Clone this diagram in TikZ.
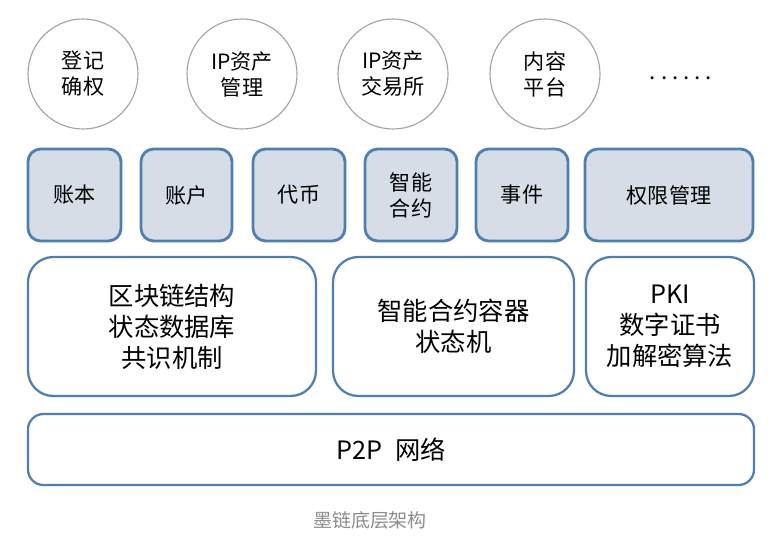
\documentclass[tikz,border=0pt]{standalone}
\usepackage{fontspec}
\setmainfont{Noto Sans CJK SC}
\definecolor{boxline}{HTML}{4F7FAE}
\definecolor{boxfill}{HTML}{D7DDE7}
\definecolor{ringline}{HTML}{A3A3A3}
\begin{document}
\begin{tikzpicture}[
  app/.style={circle, draw=ringline, line width=0.8pt, minimum size=2.75cm,
    align=center, font=\fontsize{15}{18.5}\selectfont},
  unit/.style={rounded corners=9pt, draw=boxline, fill=boxfill, line width=2pt,
    minimum height=2.3cm, align=center, font=\fontsize{15}{18.5}\selectfont},
  core/.style={rounded corners=18pt, draw=boxline, line width=1.6pt,
    minimum height=3.475cm, align=center, font=\fontsize{18}{22}\selectfont},
  net/.style={rounded corners=11pt, draw=boxline, line width=1.6pt,
    minimum height=1.775cm, minimum width=18.15cm, font=\fontsize{18}{22}\selectfont}]
  \useasboundingbox (0,0) rectangle (19.525,-13.55);
  % top row
  \node[app] (reg)  at (2.075,-1.85)  {登记\\确权};
  \node[app] (ipm)  at (6.05,-1.85)   {IP资产\\管理};
  \node[app] (ipx)  at (9.825,-1.85)  {IP资产\\交易所};
  \node[app] (cont) at (13.625,-1.85) {内容\\平台};
  \node (more) at (17.025,-1.95) {\fontsize{16}{18}\selectfont .\hspace{3.5pt}.\hspace{3.5pt}.\hspace{3.5pt}.\hspace{3.5pt}.\hspace{3.5pt}.};
  % second row
  \node[unit, minimum width=2.325cm] (ledger) at (1.8625,-4.875) {账本};
  \node[unit, minimum width=2.275cm] (acct)   at (4.6625,-4.875) {账户};
  \node[unit, minimum width=2.3cm]   (token)  at (7.475,-4.875)  {代币};
  \node[unit, minimum width=2.3cm]   (smart)  at (10.275,-4.875) {智能\\合约};
  \node[unit, minimum width=2.3cm]   (event)  at (13.05,-4.875)  {事件};
  \node[unit, minimum width=4.2cm]   (perm)   at (16.725,-4.875) {权限管理};
  % third row
  \node[core, minimum width=7.2cm]   (chain) at (4.3,-8.1625)    {区块链结构\\状态数据库\\共识机制};
  \node[core, minimum width=6.025cm] (vm)    at (11.3375,-8.1625) {智能合约容器\\状态机};
  \node[core, minimum width=4.2cm]   (pki)   at (16.75,-8.1625)  {PKI\\数字证书\\加解密算法};
  % network
  \node[net] (p2p) at (9.775,-11.2375) {P2P\hspace{0.5em}网络};
  \node[text=black!45, font=\fontsize{13.5}{16}\selectfont] (cap) at (9.25,-13.0) {墨链底层架构};
\end{tikzpicture}
\end{document}
